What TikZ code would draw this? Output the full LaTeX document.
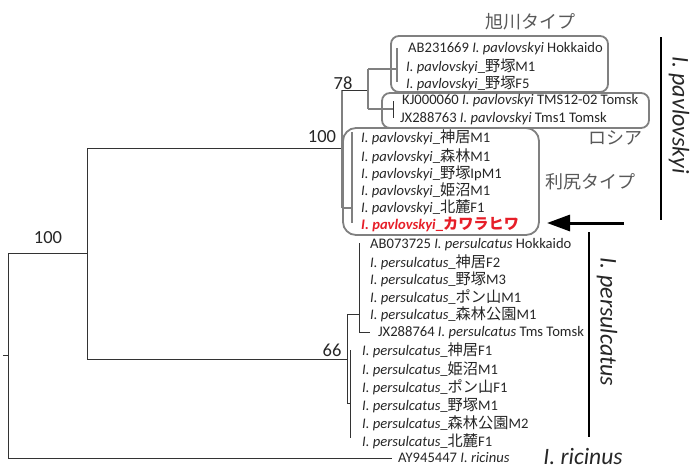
\documentclass[tikz,border=0pt]{standalone}
\usepackage{fontspec}
\setmainfont{Carlito}
\newfontfamily\jpf{Noto Sans CJK JP}
\newcommand{\jp}{\jpf\fontsize{15.2}{16}\selectfont}
\usetikzlibrary{arrows.meta}
\begin{document}
\begin{tikzpicture}[x=1pt,y=-1pt,
  tr/.style={draw=black!80, line width=1pt},
  gr/.style={draw=black!50, line width=1.3pt},
  grp/.style={draw=black!50, line width=1.8pt, rounded corners=8pt},
  leaf/.style={anchor=west, inner sep=0pt, font=\fontsize{14.6}{16}\selectfont, text=black!85},
  boot/.style={inner sep=0pt, font=\fontsize{18.5}{19}\selectfont, text=black!85},
  tag/.style={inner sep=0pt, font=\jpf\fontsize{18}{19}\selectfont, text=black!65},
  sp/.style={inner sep=0pt, font=\fontsize{24}{25}\selectfont\itshape, text=black!85},
  bar/.style={draw=black, line width=2pt}]
\useasboundingbox (0,0) rectangle (690,471);
% coordinates of tree nodes
\coordinate (stub) at (3,355);
\coordinate (root) at (8,355);
\coordinate (n1) at (87,253);
\coordinate (pav) at (342,148);
\coordinate (n78) at (368,90);
\coordinate (asa) at (397,69);
\coordinate (rus) at (393,109);
\coordinate (ris) at (352,208);
\coordinate (pers) at (347,359);
\coordinate (p1) at (359,314);
\coordinate (p2) at (350,403);
\coordinate (jx) at (370,332);
\coordinate (ric) at (392,458);
% group boxes
\draw[grp] (391,36) rectangle (608,92);
\draw[grp] (382,93) rectangle (649,128);
\draw[grp, rounded corners=13pt] (343,128) rectangle (539,235);
% tree
\draw[tr] (stub) -- (root);
\draw[tr] (8,253) -- (8,458);
\draw[tr] (8,253) -- (n1);
\draw[tr] (8,458) -- (ric);
\draw[tr] (87,148) -- (87,359);
\draw[tr] (87,148) -- (pav);
\draw[tr] (87,359) -- (pers);
\draw[gr] (342,90) -- (342,208);
\draw[tr] (342,90) -- (n78);
\draw[gr] (368,69) -- (368,109);
\draw[gr] (368,69) -- (asa);
\draw[gr] (368,109) -- (rus);
\draw[gr] (397,48) -- (397,82);
\draw[tr] (393,101) -- (393,118);
\draw[gr] (342,208) -- (ris);
\draw[gr] (352,132) -- (352,223);
\draw[tr] (347,314) -- (347,403);
\draw[tr] (347,314) -- (p1);
\draw[tr] (347,403) -- (p2);
\draw[tr] (359,243) -- (359,332);
\draw[tr] (359,332) -- (jx);
\draw[tr] (350,350) -- (350,438);
% bootstrap values
\node[boot] (b1) at (48,238) {100};
\node[boot] (b2) at (322,137) {100};
\node[boot] (b3) at (343,83) {78};
\node[boot] (b4) at (332,350) {66};
% leaves: Asahikawa type
\node[leaf] (a1) at (408,49) {AB231669 \textit{I. pavlovskyi} Hokkaido};
\node[leaf] (a2) at (406,66) {\textit{I. pavlovskyi}\_{\jp 野塚}M1};
\node[leaf] (a3) at (406,83) {\textit{I. pavlovskyi}\_{\jp 野塚}F5};
% Russia
\node[leaf] (r1) at (402,101) {KJ000060 \textit{I. pavlovskyi} TMS12-02 Tomsk};
\node[leaf] (r2) at (400,119) {JX288763 \textit{I. pavlovskyi} Tms1 Tomsk};
% Rishiri type
\node[leaf] (s1) at (361,137) {\textit{I. pavlovskyi}\_{\jp 神居}M1};
\node[leaf] (s2) at (361,156) {\textit{I. pavlovskyi}\_{\jp 森林}M1};
\node[leaf] (s3) at (361,173) {\textit{I. pavlovskyi}\_{\jp 野塚}IpM1};
\node[leaf] (s4) at (361,190) {\textit{I. pavlovskyi}\_{\jp 姫沼}M1};
\node[leaf] (s5) at (361,207) {\textit{I. pavlovskyi}\_{\jp 北麓}F1};
\node[leaf, text={rgb,255:red,230;green,30;blue,40}, font=\fontsize{14.6}{16}\selectfont\bfseries] (s6) at (361,224) {\textit{I. pavlovskyi}\_{\jp\bfseries カワラヒワ}};
% persulcatus
\node[leaf] (q1) at (370,245) {AB073725 \textit{I. persulcatus} Hokkaido};
\node[leaf] (q2) at (370,262) {\textit{I. persulcatus}\_{\jp 神居}F2};
\node[leaf] (q3) at (370,279) {\textit{I. persulcatus}\_{\jp 野塚}M3};
\node[leaf] (q4) at (370,297) {\textit{I. persulcatus}\_{\jp ポン山}M1};
\node[leaf] (q5) at (370,314) {\textit{I. persulcatus}\_{\jp 森林公園}M1};
\node[leaf] (q6) at (378,333) {JX288764 \textit{I. persulcatus} Tms Tomsk};
\node[leaf] (t1) at (362,350) {\textit{I. persulcatus}\_{\jp 神居}F1};
\node[leaf] (t2) at (362,369) {\textit{I. persulcatus}\_{\jp 姫沼}M1};
\node[leaf] (t3) at (362,387) {\textit{I. persulcatus}\_{\jp ポン山}F1};
\node[leaf] (t4) at (362,405) {\textit{I. persulcatus}\_{\jp 野塚}M1};
\node[leaf] (t5) at (362,423) {\textit{I. persulcatus}\_{\jp 森林公園}M2};
\node[leaf] (t6) at (362,441) {\textit{I. persulcatus}\_{\jp 北麓}F1};
\node[leaf] (o1) at (398,458) {AY945447 \textit{I. ricinus}};
% group tags
\node[tag] (g1) at (530,22) {旭川タイプ};
\node[tag] (g2) at (615,138) {ロシア};
\node[tag] (g3) at (590,182) {利尻タイプ};
% species bars
\coordinate (pb1) at (661,37);
\coordinate (pb2) at (661,220);
\draw[bar] (pb1) -- (pb2);
\node[sp, rotate=-90] (ps1) at (679,115) {I. pavlovskyi};
\coordinate (qb1) at (589,232);
\coordinate (qb2) at (589,437);
\draw[bar] (qb1) -- (qb2);
\node[sp, rotate=-90] (ps2) at (607,322) {I. persulcatus};
\node[sp, anchor=base, font=\fontsize{23.5}{24}\selectfont\itshape] (ps3) at (583,464) {I. ricinus};
% arrow
\coordinate (arS) at (624,223);
\coordinate (arE) at (547,223);
\draw[line width=3pt, -{Triangle[length=23pt,width=16pt]}] (arS) -- (arE);
\end{tikzpicture}
\end{document}
